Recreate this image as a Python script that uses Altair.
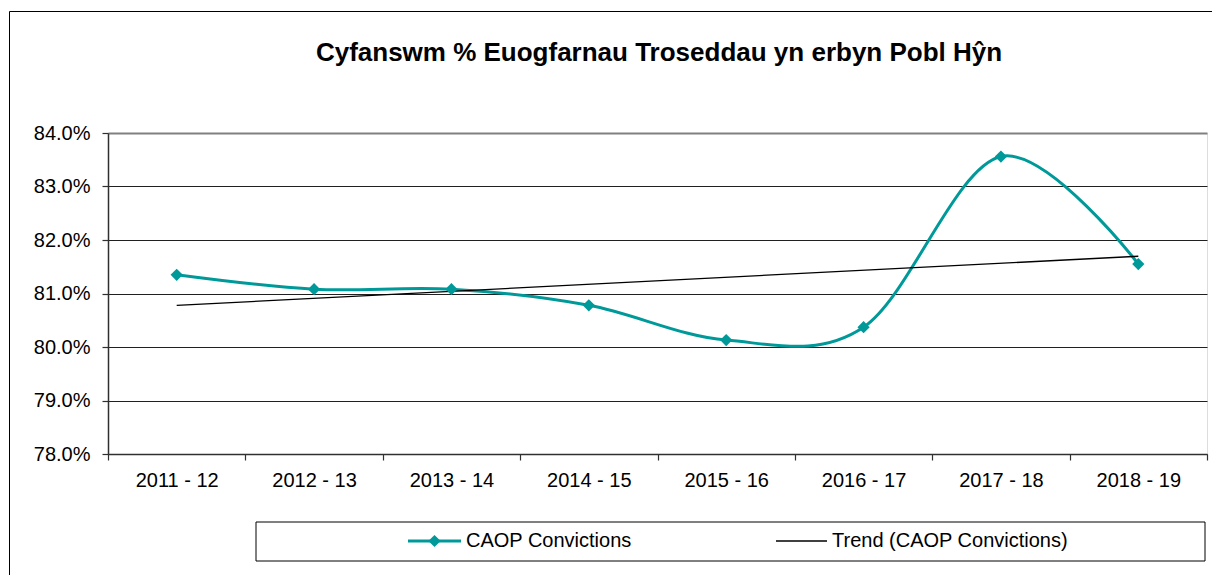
import json
import altair as alt
import pandas as pd

# ---- data ----
periods = ["2011 - 12", "2012 - 13", "2013 - 14", "2014 - 15",
           "2015 - 16", "2016 - 17", "2017 - 18", "2018 - 19"]
convictions = [81.35, 81.08, 81.08, 80.78, 80.13, 80.37, 83.56, 81.55]
y_ticks = [78, 79, 80, 81, 82, 83, 84]
series_names = ["CAOP Convictions", "Trend (CAOP Convictions)"]
title_text = "Cyfanswm % Euogfarnau Troseddau yn erbyn Pobl Hŷn"

TEAL = "#009999"
FONT = "Liberation Sans"
W, H = 1099, 321

df = pd.DataFrame({"period": periods, "value": convictions,
                   "idx": list(range(len(periods)))})

x_enc = alt.X(
    "period:N", sort=periods, bandPosition=0.5,
    scale=alt.Scale(type="band", domain=periods, paddingInner=0, paddingOuter=0),
    axis=alt.Axis(title=None, tickBand="extent", labelAngle=0, labelFontSize=20,
                  labelPadding=10, tickSize=6, grid=False, domainColor="#303030",
                  domainWidth=1.5, tickColor="#303030", tickWidth=1.2,
                  labelColor="black", labelFont=FONT),
)
y_enc = alt.Y(
    "value:Q",
    scale=alt.Scale(domain=[78, 84], nice=False, zero=False),
    axis=alt.Axis(title=None, values=y_ticks,
                  labelExpr="format(datum.value, '.1f') + '%'",
                  labelFontSize=20, labelPadding=12, tickSize=6,
                  domainColor="#303030", domainWidth=1.5, tickColor="#303030",
                  tickWidth=1.2, labelColor="black", labelFont=FONT,
                  grid=True,
                  gridColor={"condition": {"test": "datum.value == 84", "value": "#808080"},
                             "value": "#202020"},
                  gridWidth={"condition": {"test": "datum.value == 84", "value": 2},
                             "value": 1}),
)

base = alt.Chart(df)

line = base.mark_line(interpolate="cardinal", color=TEAL, strokeWidth=3).encode(
    x=x_enc, y=y_enc)

points = base.mark_point(shape="diamond", filled=True, size=150, color=TEAL,
                         opacity=1).encode(x=x_enc, y=y_enc)

trend = base.transform_regression(
    "idx", "value", method="linear", extent=[0, len(periods) - 1]
).transform_calculate(
    period=f"{json.dumps(periods)}[round(datum.idx)]"
).mark_line(color="black", strokeWidth=1.3).encode(
    x=alt.X("period:N", sort=periods, bandPosition=0.5),
    y=alt.Y("value:Q"),
)

one = pd.DataFrame({"k": [0]})

outer_border = alt.Chart(one).mark_rect(
    fill="white", fillOpacity=0, stroke="black", strokeWidth=1
).encode(x=alt.value(-98.5), x2=alt.value(1300),
         y=alt.value(-121.5), y2=alt.value(700))

title_df = pd.DataFrame({"t": [title_text]})
title_mark = alt.Chart(title_df).mark_text(
    align="center", baseline="middle", fontSize=26, fontWeight="bold",
    font=FONT, color="black"
).encode(x=alt.value(551), y=alt.value(-80), text="t:N")

legend_box = alt.Chart(one).mark_rect(
    fill="white", stroke="black", strokeWidth=1
).encode(x=alt.value(148), x2=alt.value(1097),
         y=alt.value(389), y2=alt.value(428))

leg_line1 = alt.Chart(one).mark_rule(color=TEAL, strokeWidth=3).encode(
    x=alt.value(300), x2=alt.value(353), y=alt.value(408))
leg_pt1 = alt.Chart(one).mark_point(shape="diamond", filled=True, size=150,
                                    color=TEAL, opacity=1).encode(
    x=alt.value(326.5), y=alt.value(408))
leg_line2 = alt.Chart(one).mark_rule(color="black", strokeWidth=1.5).encode(
    x=alt.value(668), x2=alt.value(719), y=alt.value(408))

leg_df1 = pd.DataFrame({"label": [series_names[0]]})
leg_df2 = pd.DataFrame({"label": [series_names[1]]})
leg_txt1 = alt.Chart(leg_df1).mark_text(
    align="left", baseline="middle", fontSize=20, font=FONT, color="black"
).encode(x=alt.value(358), y=alt.value(408), text="label:N")
leg_txt2 = alt.Chart(leg_df2).mark_text(
    align="left", baseline="middle", fontSize=20, font=FONT, color="black"
).encode(x=alt.value(724), y=alt.value(408), text="label:N")

chart = alt.layer(
    outer_border, title_mark, line, trend, points,
    legend_box, leg_line1, leg_pt1, leg_line2, leg_txt1, leg_txt2,
).resolve_scale(x="shared", y="shared").properties(
    width=W, height=H,
    padding={"left": 100, "top": 125, "right": 5, "bottom": 121},
    autosize=alt.AutoSizeParams(type="none"),
).configure_view(
    stroke="#808080", strokeWidth=2
).configure(
    font=FONT, background="white"
)

chart.save("out.html", embed_options={"renderer": "svg", "actions": False})
